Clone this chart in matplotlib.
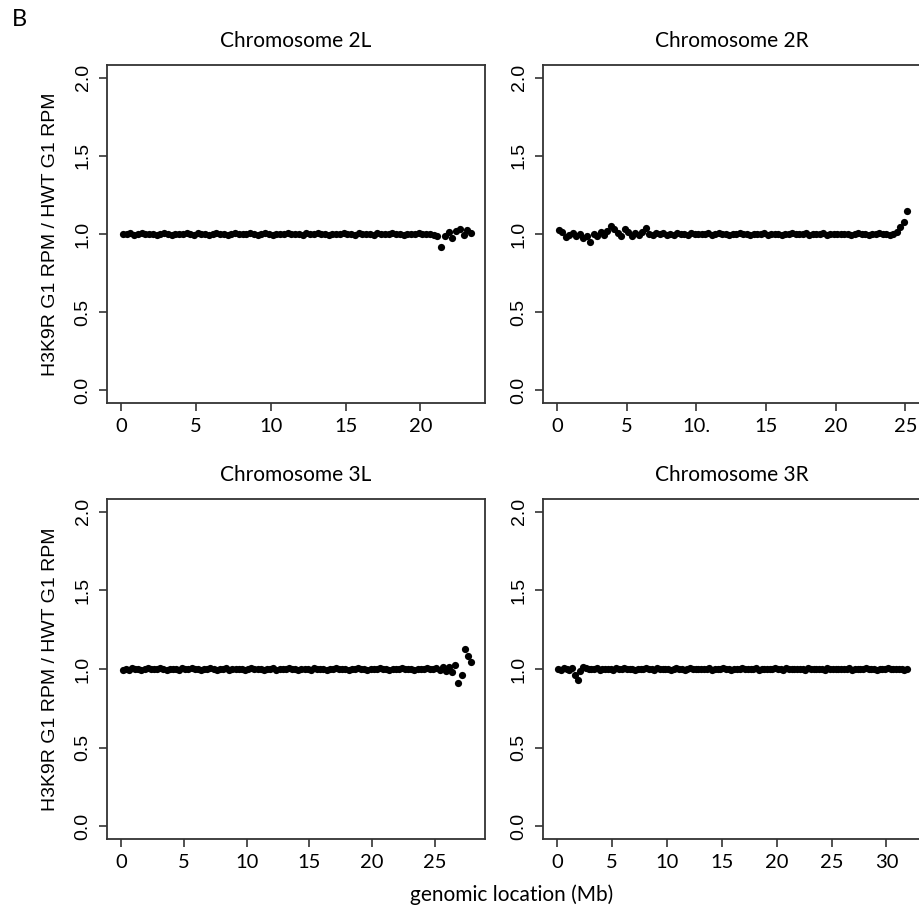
import numpy as np
import matplotlib
matplotlib.use("Agg")
import matplotlib.pyplot as plt

# ratio H3K9R / HWT (G1 RPM) in 250 kb bins along each chromosome arm
bin_mb = 0.25

ratio_2L = [
    1.002, 0.998, 1.004, 0.996, 1.001, 1.006, 0.997, 1.000, 1.003, 0.995,
    1.002, 1.005, 0.999, 0.994, 1.003, 1.001, 0.997, 1.004, 1.000, 0.996,
    1.007, 0.999, 1.002, 0.995, 1.001, 1.004, 0.998, 1.000, 0.993, 1.003,
    1.005, 0.999, 1.001, 0.997, 1.006, 1.000, 0.996, 1.002, 1.004, 0.998,
    0.995, 1.001, 1.003, 0.999, 1.005, 0.997, 1.000, 1.002, 0.994, 1.004,
    1.001, 0.998, 1.006, 0.999, 1.002, 0.996, 1.003, 1.000, 0.997, 1.005,
    0.999, 1.002, 0.995, 1.004, 1.001, 0.998, 1.003, 0.996, 1.007, 1.000,
    0.997, 1.002, 1.004, 0.999, 1.001, 0.995, 1.003, 1.000, 0.998, 1.005,
    1.002, 0.997, 1.001, 0.994, 0.990,
    0.920, 0.985, 1.012, 0.975, 1.022, 1.030, 0.992, 1.025, 1.004,
]

ratio_2R = [
    1.025, 1.012, 0.978, 0.992, 1.006, 0.985, 1.003, 0.975, 0.990, 0.948,
    1.002, 0.985, 1.010, 0.995, 1.020, 1.052, 1.035, 1.008, 0.990, 1.030,
    1.012, 0.988, 1.005, 0.994, 1.015, 1.040, 1.003, 0.992, 1.008, 0.997,
    1.004, 0.996, 1.002, 0.991, 1.006, 0.999, 1.001, 0.995, 1.005, 1.000,
    0.997, 1.003, 0.999, 1.006, 0.994, 1.001, 1.004, 0.998, 1.000, 0.996,
    1.003, 0.999, 1.005, 0.997, 1.001, 0.995, 1.002, 1.000, 0.998, 1.004,
    0.996, 1.001, 1.003, 0.999, 0.994, 1.002, 1.000, 1.005, 0.997, 1.001,
    0.999, 1.004, 0.996, 1.002, 0.998, 1.000, 1.006, 0.995, 1.001, 0.999,
    1.003, 0.997, 1.000, 1.002, 0.994, 1.001, 1.005, 0.998, 1.000, 0.996,
    1.002, 0.999, 1.004, 0.997, 1.001, 0.995, 1.003, 1.010, 1.045, 1.078,
    1.150,
]

ratio_3L = [
    0.992, 1.001, 0.996, 1.004, 0.999, 1.003, 0.995, 1.002, 1.006, 0.998,
    1.001, 0.997, 1.004, 1.000, 0.995, 1.003, 0.999, 1.002, 0.996, 1.005,
    0.998, 1.001, 1.004, 0.997, 1.000, 0.994, 1.003, 0.999, 1.006, 1.001,
    0.996, 1.002, 0.999, 1.004, 0.995, 1.001, 1.003, 0.998, 1.000, 0.993,
    1.002, 1.005, 0.997, 1.000, 1.003, 0.996, 1.001, 0.999, 1.004, 0.995,
    1.002, 0.998, 1.001, 1.006, 0.997, 1.000, 0.994, 1.003, 0.999, 1.002,
    0.996, 1.004, 1.000, 0.998, 1.003, 0.995, 1.001, 0.999, 1.005, 0.997,
    1.002, 1.000, 0.996, 1.003, 0.999, 1.006, 0.998, 1.001, 0.994, 1.002,
    1.000, 0.997, 1.004, 0.999, 1.002, 0.995, 1.003, 1.001, 0.998, 1.005,
    0.997, 1.001, 1.003, 0.996, 1.002, 1.000, 0.998, 1.004, 0.999, 1.001,
    1.006, 0.995, 1.010, 0.985, 1.015, 0.978, 1.025, 0.910, 0.965, 1.130,
    1.080, 1.045,
]

ratio_3R = [
    1.003, 0.996, 1.005, 1.001, 0.994, 1.007, 0.962, 0.930, 0.985, 1.010,
    1.004, 0.997, 1.002, 0.999, 1.006, 0.995, 1.001, 1.003, 0.998, 1.000,
    0.996, 1.004, 1.001, 0.999, 1.005, 0.997, 1.002, 1.000, 0.995, 1.003,
    0.999, 1.001, 1.006, 0.998, 1.000, 0.996, 1.004, 1.002, 0.997, 1.001,
    1.003, 0.995, 1.000, 1.005, 0.999, 1.002, 0.996, 1.001, 1.004, 0.998,
    1.000, 1.003, 0.997, 1.001, 0.999, 1.006, 0.995, 1.002, 1.000, 0.998,
    1.004, 0.999, 1.001, 0.996, 1.003, 1.000, 0.998, 1.005, 0.997, 1.002,
    0.999, 1.001, 1.004, 0.995, 1.002, 1.000, 0.997, 1.003, 0.999, 1.006,
    0.998, 1.001, 0.996, 1.004, 1.000, 0.999, 1.003, 0.997, 1.002, 1.000,
    0.995, 1.005, 1.001, 0.998, 1.003, 0.999, 1.000, 0.996, 1.004, 1.002,
    0.999, 1.001, 0.997, 1.003, 1.000, 0.998, 1.005, 0.996, 1.002, 0.999,
    1.001, 0.997, 1.004, 1.000, 0.998, 1.002, 0.995, 1.003, 1.001, 0.999,
    1.004, 0.997, 1.000, 1.002, 0.998, 1.003, 0.996, 1.001,
]

arm_names = ["Chromosome 2L", "Chromosome 2R", "Chromosome 3L", "Chromosome 3R"]
arm_ratios = [ratio_2L, ratio_2R, ratio_3L, ratio_3R]
arm_xticks = [[0, 5, 10, 15, 20], [0, 5, 10, 15, 20, 25],
              [0, 5, 10, 15, 20, 25], [0, 5, 10, 15, 20, 25, 30]]
arm_xticklabels = [["0", "5", "10", "15", "20"], ["0", "5", "10.", "15", "20", "25"],
                   ["0", "5", "10", "15", "20", "25"], ["0", "5", "10", "15", "20", "25", "30"]]
yticks = [0.0, 0.5, 1.0, 1.5, 2.0]
ylabel = "H3K9R G1 RPM / HWT G1 RPM"
xlabel = "genomic location (Mb)"

W, H = 919, 909
fig = plt.figure(figsize=(W / 100, H / 100), dpi=100)

# panel boxes in pixels: left, top, height
boxes = [(107, 65, 338), (543, 65, 338), (107, 499, 340), (543, 499, 340)]
pw = 378

title_font = "Lato"
tick_font = "Liberation Sans"
frame_col = "#333333"

for i, (name, vals) in enumerate(zip(arm_names, arm_ratios)):
    left, top, ph = boxes[i]
    ax = fig.add_axes([left / W, 1 - (top + ph) / H, pw / W, ph / H])
    y = np.array(vals)
    x = (np.arange(len(y)) + 0.5) * bin_mb
    ax.plot(x, y, "o", color="black", markersize=5.2, markeredgewidth=0)

    # R style 4% padding
    xr = x.max() - 0
    ax.set_xlim(0 - 0.04 * xr, x.max() + 0.04 * xr)
    ax.set_ylim(-0.08, 2.08)

    ax.set_xticks(arm_xticks[i])
    ax.set_xticklabels(arm_xticklabels[i], fontfamily=title_font, fontsize=14.5)
    ax.set_yticks(yticks)
    ax.set_yticklabels(["0.0", "0.5", "1.0", "1.5", "2.0"], fontfamily=tick_font,
                       fontsize=14, rotation=90, va="center")
    ax.tick_params(direction="out", length=6, width=1.2, color=frame_col, pad=5)
    for s in ax.spines.values():
        s.set_color(frame_col)
        s.set_linewidth(1.3)
    ax.set_title(name, fontfamily=title_font, fontsize=15, pad=13)

    if i % 2 == 0:
        fig.text(51 / W, 1 - (top + ph / 2) / H, ylabel, rotation=90,
                 ha="center", va="center", fontfamily=tick_font, fontsize=14)

fig.text(512 / W, 1 - 895 / H, xlabel, ha="center", va="center",
         fontfamily=title_font, fontsize=15)
fig.text(19 / W, 1 - 20 / H, "B", ha="center", va="center",
         fontfamily=title_font, fontsize=17)

fig.savefig("out.png", dpi=100)
